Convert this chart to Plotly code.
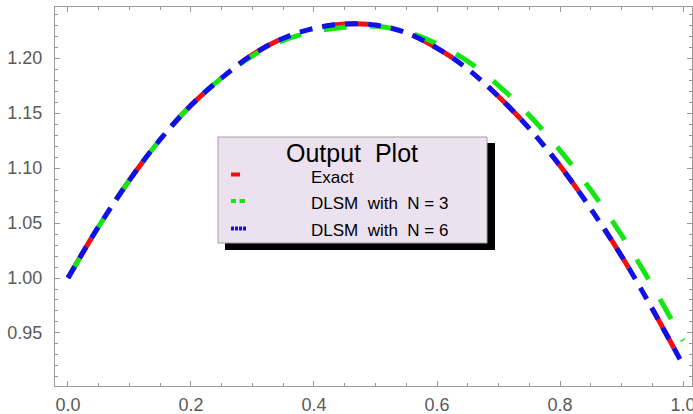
import plotly.graph_objects as go

# ---------------- data ----------------
x_vals = [0.00, 0.05, 0.10, 0.15, 0.20, 0.25, 0.30, 0.35, 0.40, 0.45, 0.50,
          0.55, 0.60, 0.65, 0.70, 0.75, 0.80, 0.85, 0.90, 0.95, 1.00]
exact = [1.000, 1.047, 1.089, 1.126, 1.157, 1.182, 1.203, 1.218, 1.227, 1.231, 1.230,
         1.223, 1.209, 1.190, 1.165, 1.136, 1.102, 1.063, 1.020, 0.972, 0.921]
dlsm_n3 = [1.000, 1.047, 1.089, 1.126, 1.157, 1.182, 1.202, 1.216, 1.224, 1.228, 1.229,
           1.224, 1.213, 1.197, 1.175, 1.148, 1.116, 1.080, 1.039, 0.993, 0.943]
dlsm_n6 = [1.000, 1.047, 1.089, 1.126, 1.157, 1.182, 1.203, 1.218, 1.227, 1.231, 1.230,
           1.223, 1.209, 1.190, 1.165, 1.136, 1.102, 1.063, 1.020, 0.972, 0.921]

series_names = ["Exact", "DLSM\u00a0 with\u00a0 N = 3", "DLSM\u00a0 with\u00a0 N = 6"]
legend_title = "Output\u00a0 Plot"
x_ticks = [0.0, 0.2, 0.4, 0.6, 0.8, 1.0]
y_ticks = [0.95, 1.00, 1.05, 1.10, 1.15, 1.20]

# ---------------- styling ----------------
FONT = "Liberation Sans, Arial, sans-serif"
RED, GREEN, BLUE = "#f01010", "#14e614", "#1010e8"
W, H = 693, 414
L, R, T, B = 55, 692, 7, 386  # plot area in pixels


def px(x):
    return (x - L) / (R - L)


def py(y):
    return (B - y) / (B - T)


fig = go.Figure()
fig.add_trace(go.Scatter(x=x_vals, y=exact, mode="lines", name=series_names[0],
                         line=dict(color=RED, width=5, dash="46px,46px", shape="spline")))
fig.add_trace(go.Scatter(x=x_vals, y=dlsm_n3, mode="lines", name=series_names[1],
                         line=dict(color=GREEN, width=5, dash="23px,23px", shape="spline")))
fig.add_trace(go.Scatter(x=x_vals, y=dlsm_n6, mode="lines", name=series_names[2],
                         line=dict(color=BLUE, width=5, dash="13px,10px", shape="spline")))

axis_common = dict(showline=True, linecolor="#999999", linewidth=1.2, mirror="allticks",
                   ticks="inside", ticklen=5, tickcolor="#999999", tickwidth=1,
                   showgrid=False, zeroline=False, automargin=False,
                   ticklabeloverflow="allow",
                   tickfont=dict(family=FONT, size=18, color="#5a5a5a"))

fig.update_xaxes(range=[-0.0211, 1.0146], tickvals=x_ticks, tickformat=".1f",
                 minor=dict(dtick=0.05, ticks="inside", ticklen=3, tickcolor="#999999"),
                 ticklabelstandoff=2, **axis_common)
fig.update_yaxes(range=[0.9018, 1.2464], tickvals=y_ticks, tickformat=".2f",
                 minor=dict(dtick=0.01, ticks="inside", ticklen=3, tickcolor="#999999"),
                 ticklabelstandoff=8, **axis_common)

shapes = []
# shadow
shapes.append(dict(type="rect", xref="paper", yref="paper", layer="above",
                   x0=px(225), x1=px(495), y0=py(250), y1=py(143),
                   fillcolor="black", line=dict(width=0)))
# legend box
shapes.append(dict(type="rect", xref="paper", yref="paper", layer="above",
                   x0=px(218), x1=px(487), y0=py(243), y1=py(137),
                   fillcolor="#ece1ef", line=dict(color="#a0a0a0", width=1)))
# legend symbols
shapes.append(dict(type="line", xref="paper", yref="paper", layer="above",
                   x0=px(231), x1=px(240), y0=py(174.5), y1=py(174.5),
                   line=dict(color=RED, width=4)))
for a, b in [(231, 236), (239.5, 245)]:
    shapes.append(dict(type="line", xref="paper", yref="paper", layer="above",
                       x0=px(a), x1=px(b), y0=py(201), y1=py(201),
                       line=dict(color=GREEN, width=4)))
for a in [231, 235, 239, 243]:
    shapes.append(dict(type="line", xref="paper", yref="paper", layer="above",
                       x0=px(a), x1=px(a + 3), y0=py(228.5), y1=py(228.5),
                       line=dict(color=BLUE, width=4)))

annotations = [
    dict(text=legend_title, xref="paper", yref="paper", x=px(352), y=py(153),
         xanchor="center", yanchor="middle", showarrow=False,
         font=dict(family=FONT, size=25, color="black")),
]
for name, yc in zip(series_names, [177, 203, 230]):
    annotations.append(dict(text=name, xref="paper", yref="paper", x=px(309), y=py(yc),
                            xanchor="left", yanchor="middle", showarrow=False,
                            font=dict(family=FONT, size=17, color="black")))

fig.update_layout(width=W, height=H, margin=dict(l=L, r=W - R, t=T, b=H - B),
                  plot_bgcolor="white", paper_bgcolor="white", showlegend=False,
                  shapes=shapes, annotations=annotations)

fig.write_html("out.html", config={"displayModeBar": False},
               post_script="document.body.style.margin='0';document.body.style.overflow='hidden';")
